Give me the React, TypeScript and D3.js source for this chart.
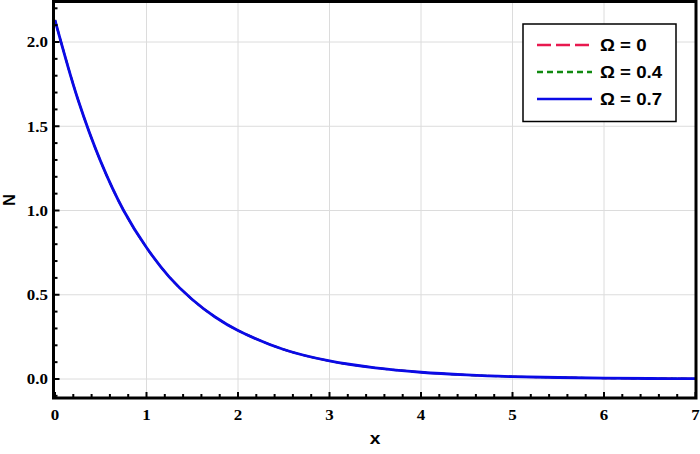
import * as d3 from "d3";

const WIDTH = 700;
const HEIGHT = 454;

// plot frame in pixels
const FRAME = { left: 53.5, right: 696, top: 1.5, bottom: 398 };

// curve values (all three series coincide)
const xValues = [0, 0.25, 0.5, 0.75, 1, 1.25, 1.5, 1.75, 2, 2.5, 3, 3.5, 4, 4.5, 5, 5.5, 6, 6.5, 7];
const nOmega0 = [2.13, 1.66, 1.29, 1.0, 0.78, 0.605, 0.472, 0.368, 0.288, 0.175, 0.107, 0.066, 0.04, 0.024, 0.014, 0.009, 0.005, 0.003, 0.002];
const nOmega04 = [2.13, 1.66, 1.29, 1.0, 0.78, 0.605, 0.472, 0.368, 0.288, 0.175, 0.107, 0.066, 0.04, 0.024, 0.014, 0.009, 0.005, 0.003, 0.002];
const nOmega07 = [2.13, 1.66, 1.29, 1.0, 0.78, 0.605, 0.472, 0.368, 0.288, 0.175, 0.107, 0.066, 0.04, 0.024, 0.014, 0.009, 0.005, 0.003, 0.002];

const seriesLabels = ["Ω = 0", "Ω = 0.4", "Ω = 0.7"];
const seriesColors = ["#e8194f", "#118a11", "#0a0ae6"];
const seriesDash = ["14 5", "6 4", ""];
const seriesWidth = [2, 2, 2.8];

const xTicks = [0, 1, 2, 3, 4, 5, 6, 7];
const yTicks = [0, 0.5, 1, 1.5, 2];

const xScale = d3.scaleLinear().domain([0, 7]).range([55, 695.5]);
const yScale = d3.scaleLinear().domain([0, 2]).range([379, 42]);

const xMinor = d3.range(0, 7.001, 0.2);
const yMinor = d3.range(-0.1, 2.201, 0.1);

const serif = "'Liberation Serif', 'DejaVu Serif', serif";
const sans = "'Liberation Sans', Arial, sans-serif";

// the source image text is a bit wider than it is tall
const STRETCH = 1.13;

export default function App() {
  const series = [nOmega0, nOmega04, nOmega07];
  const line = d3
    .line<number>()
    .x((_, i) => xScale(xValues[i]))
    .y((d) => yScale(d))
    .curve(d3.curveCatmullRom);

  return (
    <svg
      width={WIDTH}
      height={HEIGHT}
      style={{ position: "absolute", left: 0, top: 0, background: "white" }}
    >
      {/* Grid */}
      {xTicks.slice(1, -1).map((t) => (
        <line
          key={`gx${t}`}
          x1={xScale(t)}
          x2={xScale(t)}
          y1={FRAME.top}
          y2={FRAME.bottom}
          stroke="#dcdcdc"
          strokeWidth={1}
        />
      ))}
      {yTicks.map((t) => (
        <line
          key={`gy${t}`}
          x1={FRAME.left}
          x2={FRAME.right}
          y1={yScale(t)}
          y2={yScale(t)}
          stroke="#dcdcdc"
          strokeWidth={1}
        />
      ))}

      {/* Curves */}
      {series.map((s, i) => (
        <path
          key={i}
          d={line(s) ?? ""}
          fill="none"
          stroke={seriesColors[i]}
          strokeWidth={seriesWidth[i]}
          strokeDasharray={seriesDash[i] || undefined}
        />
      ))}

      {/* Minor / major ticks */}
      {xMinor.map((t, i) => {
        const major = xTicks.some((m) => Math.abs(m - t) < 1e-6);
        return (
          <line
            key={`tx${i}`}
            x1={xScale(t)}
            x2={xScale(t)}
            y1={FRAME.bottom}
            y2={FRAME.bottom - (major ? 6 : 4)}
            stroke="black"
            strokeWidth={2}
          />
        );
      })}
      {yMinor.map((t, i) => {
        const major = yTicks.some((m) => Math.abs(m - t) < 1e-6);
        return (
          <line
            key={`ty${i}`}
            x1={FRAME.left}
            x2={FRAME.left + (major ? 6 : 4)}
            y1={yScale(t)}
            y2={yScale(t)}
            stroke="black"
            strokeWidth={2}
          />
        );
      })}

      {/* Frame */}
      <rect
        x={FRAME.left}
        y={FRAME.top}
        width={FRAME.right - FRAME.left}
        height={FRAME.bottom - FRAME.top}
        fill="none"
        stroke="black"
        strokeWidth={3}
      />

      {/* Tick labels */}
      {xTicks.map((t) => (
        <text
          key={`lx${t}`}
          transform={`translate(${xScale(t)},420) scale(${STRETCH},1)`}
          textAnchor="middle"
          fontFamily={serif}
          fontWeight="bold"
          fontSize={15}
        >
          {t}
        </text>
      ))}
      {yTicks.map((t) => (
        <text
          key={`ly${t}`}
          transform={`translate(48,${yScale(t)}) scale(${STRETCH},1)`}
          dy="0.35em"
          textAnchor="end"
          fontFamily={serif}
          fontWeight="bold"
          fontSize={15}
        >
          {d3.format(".1f")(t)}
        </text>
      ))}

      {/* Axis titles */}
      <text
        transform={`translate(375,444) scale(${STRETCH},1)`}
        textAnchor="middle"
        fontFamily={sans}
        fontWeight="bold"
        fontSize={17}
      >
        x
      </text>
      <text
        transform="translate(9,200) rotate(-90)"
        textAnchor="middle"
        dy="0.35em"
        fontFamily={sans}
        fontWeight="bold"
        fontSize={16}
      >
        N
      </text>

      {/* Legend */}
      <rect x={523} y={24} width={153} height={97.5} fill="white" stroke="black" strokeWidth={1.5} />
      {seriesLabels.map((label, i) => {
        const y = 45 + i * 27;
        return (
          <g key={label}>
            <line
              x1={537}
              x2={592}
              y1={y}
              y2={y}
              stroke={seriesColors[i]}
              strokeWidth={2.5}
              strokeDasharray={seriesDash[i] || undefined}
            />
            <text
              transform={`translate(600,${y}) scale(${STRETCH},1)`}
              dy="0.35em"
              fontFamily={sans}
              fontWeight="bold"
              fontSize={16.5}
            >
              {label}
            </text>
          </g>
        );
      })}
    </svg>
  );
}
